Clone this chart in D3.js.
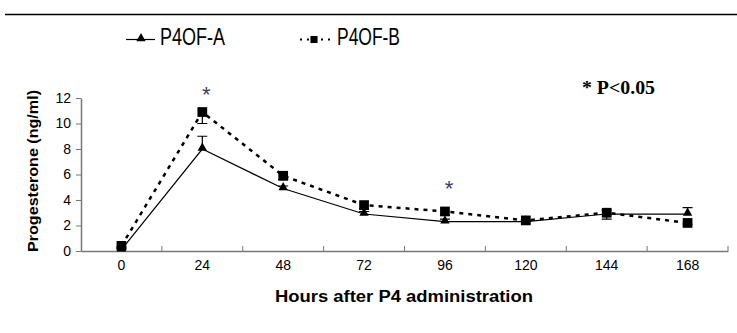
<!DOCTYPE html>
<html>
<head>
<meta charset="utf-8">
<script src="https://cdn.jsdelivr.net/npm/d3@7/dist/d3.min.js"></script>
<style>
body { margin: 0; background: #fff; }
svg { display: block; font-family: Arial, "Liberation Sans", sans-serif; }
.tick text { font-size: 14px; fill: #000; }
</style>
</head>
<body>
<svg width="737" height="333"></svg>
<script>
// data
var hours = ['0', '24', '48', '72', '96', '120', '144', '168'];
var seriesA = [0.1, 8.0, 4.9, 2.9, 2.3, 2.3, 2.9, 2.9];
var seriesB = [0.4, 10.9, 5.9, 3.6, 3.1, 2.4, 3.0, 2.2];
var errA = [0.1, 1.0, 0.2, 0.2, 0.2, 0.1, 0.3, 0.5];
var errB = [0.1, 0.9, 0.3, 0.3, 0.3, 0.1, 0.5, 0.1];
var yTicks = [0, 2, 4, 6, 8, 10, 12];
var starHours = ['24', '96'];
var starLevels = [11.7, 4.3];

var svg = d3.select('svg');
var margin = { l: 81, r: 9, t: 98, b: 82 };
var width = 737 - margin.l - margin.r;
var height = 333 - margin.t - margin.b;

// top rule
svg.append('line')
    .attr('x1', 5).attr('x2', 737)
    .attr('y1', 14.5).attr('y2', 14.5)
    .attr('stroke', '#000').attr('stroke-width', 1.5);

var g = svg.append('g').attr('transform', 'translate(' + margin.l + ',' + margin.t + ')');

var x = d3.scaleBand().domain(hours).range([0, width]);
var y = d3.scaleLinear().domain([0, 12]).range([height, 0]);
var cx = d => x(d) + x.bandwidth() / 2;

// axes
var xAxis = g.append('g')
    .attr('transform', 'translate(0,' + height + ')')
    .call(d3.axisBottom(x).tickSize(0).tickPadding(9));
xAxis.select('.domain').attr('stroke', '#777').attr('stroke-width', 1.5);
// tick marks sit between categories
xAxis.selectAll('.sep')
    .data(hours.slice(1).concat(['end']))
    .enter().append('line')
    .attr('class', 'sep')
    .attr('x1', (d, i) => (i + 1) * x.bandwidth())
    .attr('x2', (d, i) => (i + 1) * x.bandwidth())
    .attr('y1', 0).attr('y2', -5)
    .attr('stroke', '#777');

var yAxis = g.append('g')
    .call(d3.axisLeft(y).tickValues(yTicks).tickSize(5).tickPadding(5).tickSizeOuter(0));
yAxis.select('.domain').attr('stroke', '#777').attr('stroke-width', 1.5);
yAxis.selectAll('.tick line').attr('stroke', '#777');

// error bars
function errBars(vals, errs, dir) {
    g.selectAll(null).data(hours).enter().append('path')
        .attr('d', (d, i) => {
            var y0 = y(vals[i]), y1 = y(vals[i] + dir * errs[i]);
            return 'M' + cx(d) + ',' + y0 + 'V' + y1 + 'M' + (cx(d) - 5) + ',' + y1 + 'H' + (cx(d) + 5);
        })
        .attr('stroke', '#000').attr('stroke-width', 1.2).attr('fill', 'none');
}
errBars(seriesA, errA, 1);
errBars(seriesB, errB, -1);

var line = d3.line().x((d, i) => cx(hours[i])).y(d => y(d));

g.append('path').datum(seriesA)
    .attr('d', line).attr('fill', 'none')
    .attr('stroke', '#000').attr('stroke-width', 1.2);
g.append('path').datum(seriesB)
    .attr('d', line).attr('fill', 'none')
    .attr('stroke', '#000').attr('stroke-width', 2.5)
    .attr('stroke-dasharray', '4,5');

var tri = d3.symbol().type(d3.symbolTriangle).size(38);
var sq = d3.symbol().type(d3.symbolSquare).size(95);

g.selectAll('.ptA').data(seriesA).enter().append('path')
    .attr('class', 'ptA').attr('d', tri)
    .attr('transform', (d, i) => 'translate(' + cx(hours[i]) + ',' + (y(d) - 1) + ')');
g.selectAll('.ptB').data(seriesB).enter().append('path')
    .attr('class', 'ptB').attr('d', sq)
    .attr('transform', (d, i) => 'translate(' + cx(hours[i]) + ',' + y(d) + ')');

// significance stars
g.selectAll('.star').data(starHours).enter().append('text')
    .attr('x', d => cx(d) + 4)
    .attr('y', (d, i) => y(starLevels[i]))
    .attr('text-anchor', 'middle')
    .attr('font-size', 22).attr('fill', '#3d3d66')
    .text('*');

svg.append('text')
    .attr('x', 582).attr('y', 94)
    .attr('font-family', '"Liberation Serif", "Times New Roman", serif')
    .attr('font-weight', 'bold').attr('font-size', 18)
    .attr('textLength', 73).attr('lengthAdjust', 'spacingAndGlyphs')
    .text('* P<0.05');

// axis titles
svg.append('text')
    .attr('x', 404).attr('y', 302)
    .attr('text-anchor', 'middle')
    .attr('font-weight', 'bold').attr('font-size', 16)
    .attr('textLength', 258).attr('lengthAdjust', 'spacingAndGlyphs')
    .text('Hours after P4 administration');
svg.append('text')
    .attr('transform', 'translate(38,171) rotate(-90)')
    .attr('text-anchor', 'middle')
    .attr('font-weight', 'bold').attr('font-size', 15)
    .attr('textLength', 162).attr('lengthAdjust', 'spacingAndGlyphs')
    .text('Progesterone (ng/ml)');

// legend
var leg = svg.append('g');
leg.append('line').attr('x1', 126).attr('x2', 155).attr('y1', 39.5).attr('y2', 39.5)
    .attr('stroke', '#000').attr('stroke-width', 1.2);
leg.append('path').attr('d', tri).attr('transform', 'translate(141,38.5)');
leg.append('text').attr('x', 160).attr('y', 45).attr('font-size', 23)
    .attr('textLength', 65).attr('lengthAdjust', 'spacingAndGlyphs')
    .text('P4OF-A');

leg.append('line').attr('x1', 300).attr('x2', 330).attr('y1', 39.5).attr('y2', 39.5)
    .attr('stroke', '#000').attr('stroke-width', 2)
    .attr('stroke-dasharray', '2,5');
leg.append('path').attr('d', d3.symbol().type(d3.symbolSquare).size(50)).attr('transform', 'translate(314,39.5)');
leg.append('text').attr('x', 337).attr('y', 45).attr('font-size', 23)
    .attr('textLength', 63).attr('lengthAdjust', 'spacingAndGlyphs')
    .text('P4OF-B');
</script>
</body>
</html>
